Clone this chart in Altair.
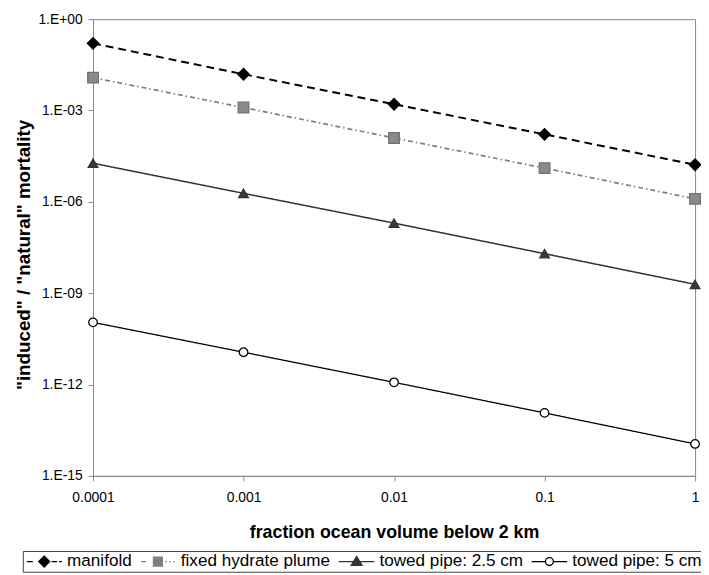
import altair as alt
import pandas as pd

# ---- data ----
x_vals = [0.0001, 0.001, 0.01, 0.1, 1]
x_tick_labels = ["0.0001", "0.001", "0.01", "0.1", "1"]
y_tick_vals = [1, 1e-3, 1e-6, 1e-9, 1e-12, 1e-15]
y_tick_labels = ["1.E+00", "1.E-03", "1.E-06", "1.E-09", "1.E-12", "1.E-15"]

series_names = ["manifold", "fixed hydrate plume", "towed pipe: 2.5 cm", "towed pipe: 5 cm"]
manifold = [0.16, 0.0155, 0.0016, 1.65e-4, 1.65e-5]
fixed_hydrate = [0.012, 1.25e-3, 1.25e-4, 1.28e-5, 1.25e-6]
towed_25 = [1.85e-5, 1.9e-6, 2.0e-7, 1.98e-8, 1.95e-9]
towed_5 = [1.1e-10, 1.15e-11, 1.18e-12, 1.17e-13, 1.12e-14]

rows = []
for name, vals in zip(series_names, [manifold, fixed_hydrate, towed_25, towed_5]):
    for xv, yv in zip(x_vals, vals):
        rows.append({"series": name, "x": xv, "y": yv})
df = pd.DataFrame(rows)

# ---- styles ----
FONT = "Liberation Sans"
line_colors = ["#000000", "#808080", "#333333", "#000000"]
line_dashes = [[8, 5], [5, 3, 1.5, 3], [1, 0], [1, 0]]
line_widths = [2.0, 1.3, 1.6, 1.5]
point_shapes = ["diamond", "square", "triangle-up", "circle"]
point_fills = ["#000000", "#8a8a8a", "#3a3a3a", "#ffffff"]
point_strokes = ["#000000", "#707070", "#333333", "#000000"]
point_sizes = [135, 75, 90, 80]


# legend glyphs: line pieces + marker, drawn with strokes only (filled look via nested outlines)
def _nested(fn, r, step=0.2):
    parts = []
    rr = r
    while rr > 0.05:
        parts.append(fn(round(rr, 3)))
        rr -= step
    return "".join(parts)


def _diamond(r):
    return f"M{-r},0L0,{-r}L{r},0L0,{r}Z"


def _square(r):
    return f"M{-r},{-r}H{r}V{r}H{-r}Z"


def _tri(r):
    return f"M0,{-1.05 * r:.3f}L{1.1 * r:.3f},{0.75 * r:.3f}L{-1.1 * r:.3f},{0.75 * r:.3f}Z"


legend_paths = [
    "M-3.5,0H-2.3M1.5,0H2.6M3.0,0H3.6" + _nested(_diamond, 1.1),
    "M-3.4,0H-2.4M1.5,0H1.8M2.3,0H2.6M3.1,0H3.4" + _nested(_square, 0.9),
    "M-3.6,0H-0.6M0.6,0H3.6" + _nested(_tri, 1.0),
    "M-3.6,0H-0.8M0.8,0H3.6M0.8,0A0.8,0.8,0,1,1,-0.8,0A0.8,0.8,0,1,1,0.8,0",
]

x_label_expr = "[" + ",".join(f"'{s}'" for s in x_tick_labels) + "][round(log(datum.value)/LN10)+4]"
y_label_expr = "[" + ",".join(f"'{s}'" for s in y_tick_labels) + "][round(-log(datum.value)/LN10/3)]"

x_enc = alt.X(
    "x:Q",
    scale=alt.Scale(type="log", domain=[1e-4, 1], nice=False),
    axis=alt.Axis(
        values=x_vals, labelExpr=x_label_expr, title="fraction ocean volume below 2 km",
        tickSize=5, labelPadding=10, titlePadding=19, labelFontSize=14,
        titleFontSize=18, titleFontWeight="bold", labelFlush=False,
    ),
)
y_enc = alt.Y(
    "y:Q",
    scale=alt.Scale(type="log", domain=[1e-15, 1], nice=False),
    axis=alt.Axis(
        values=y_tick_vals, labelExpr=y_label_expr, title='"induced" / "natural" mortality',
        tickSize=5, labelPadding=6, titlePadding=4, labelFontSize=14,
        titleFontSize=19, titleFontWeight="bold", titleY=238, labelFlush=False,
    ),
)

dom = series_names

lines = alt.Chart(df).mark_line().encode(
    x=x_enc, y=y_enc,
    stroke=alt.Stroke("series:N", scale=alt.Scale(domain=dom, range=line_colors), legend=None),
    strokeDash=alt.StrokeDash("series:N", scale=alt.Scale(domain=dom, range=line_dashes), legend=None),
    strokeWidth=alt.StrokeWidth("series:N", scale=alt.Scale(domain=dom, range=line_widths), legend=None),
)

points = alt.Chart(df).mark_point(filled=True, opacity=1, strokeWidth=1.3).encode(
    x=x_enc, y=y_enc,
    shape=alt.Shape("series:N", scale=alt.Scale(domain=dom, range=point_shapes), legend=None),
    fill=alt.Fill("series:N", scale=alt.Scale(domain=dom, range=point_fills), legend=None),
    stroke=alt.Stroke("series:N", scale=alt.Scale(domain=dom, range=point_strokes), legend=None),
    size=alt.Size("series:N", scale=alt.Scale(domain=dom, range=point_sizes), legend=None),
)

leg = alt.Legend(
    title=None, orient="none", legendX=-71, legendY=538, direction="horizontal",
    labelFont=FONT, labelFontSize=17.3, labelColor="#000000",
    symbolSize=100, symbolStrokeWidth=1.3, symbolOffset=11, labelOffset=14.5,
    columnPadding=6, padding=2, strokeColor="#444444", fillColor="#ffffff",
)
legend_layer = alt.Chart(df).mark_point(opacity=0).encode(
    x=x_enc, y=y_enc,
    shape=alt.Shape("series:N", scale=alt.Scale(domain=dom, range=legend_paths), legend=leg),
    stroke=alt.Stroke("series:N", scale=alt.Scale(domain=dom, range=line_colors), legend=leg),
)

chart = alt.layer(lines, points, legend_layer).resolve_scale(
    shape="independent", fill="independent", stroke="independent",
    strokeDash="independent", size="independent", strokeWidth="independent",
).properties(
    width=609, height=462,
    autosize=alt.AutoSizeParams(type="none"),
    padding={"left": 86, "top": 8, "right": 6, "bottom": 96},
    background="#ffffff",
).configure_view(
    stroke="#888888", strokeWidth=1,
).configure_axis(
    grid=False, domainColor="#888888", tickColor="#888888",
    labelColor="#000000", titleColor="#000000",
    labelFont=FONT, titleFont=FONT,
)

chart.save("out.html", embed_options={"renderer": "svg", "actions": False})
